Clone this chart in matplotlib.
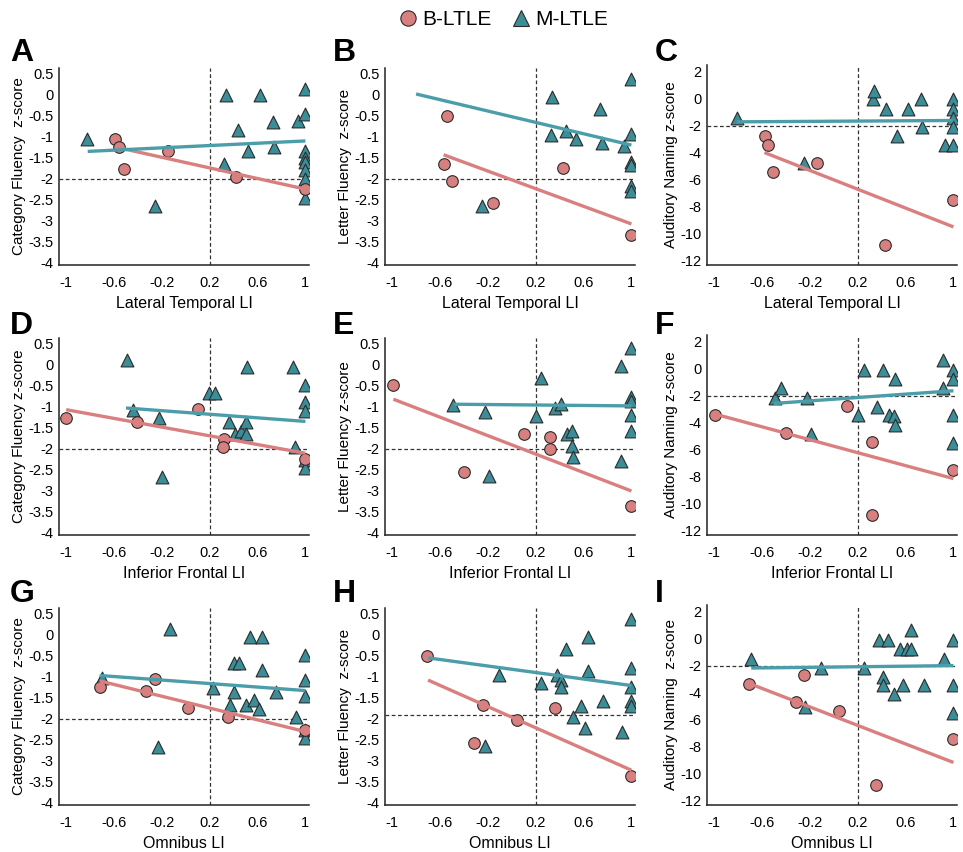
import numpy as np
import matplotlib.pyplot as plt
from matplotlib.lines import Line2D

plt.rcParams['font.family'] = ['Liberation Sans', 'DejaVu Sans']

# ---- data ----
x_ticks = [-1, -0.6, -0.2, 0.2, 0.6, 1]
x_tick_labels = ['-1', '-0.6', '-0.2', '0.2', '0.6', '1']
fluency_ticks = [0.5, 0, -0.5, -1, -1.5, -2, -2.5, -3, -3.5, -4]
fluency_labels = ['0.5', '0', '-0.5', '-1', '-1.5', '-2', '-2.5', '-3', '-3.5', '-4']
naming_ticks = [2, 0, -2, -4, -6, -8, -10, -12]
naming_labels = ['2', '0', '-2', '-4', '-6', '-8', '-10', '-12']
groups = ['B-LTLE', 'M-LTLE']

# A: lateral temporal LI vs category fluency
a_b_x = [-0.59, -0.56, -0.515, -0.15, 0.42, 1.0]
a_b_y = [-1.05, -1.25, -1.78, -1.35, -1.97, -2.25]
a_m_x = [-0.83, -0.26, 0.34, 0.32, 0.44, 0.52, 0.62, 0.73, 0.74, 0.94, 1, 1, 1, 1, 1, 1, 1, 1]
a_m_y = [-1.05, -2.65, 0.0, -1.65, -0.85, -1.35, 0.0, -0.65, -1.25, -0.63, 0.15, -0.45,
         -1.35, -1.5, -1.6, -1.8, -2.0, -2.45]
a_b_fit = [[-0.58, 1.0], [-1.25, -2.25]]
a_m_fit = [[-0.82, 1.0], [-1.35, -1.1]]

# B: lateral temporal LI vs letter fluency
b_b_x = [-0.54, -0.57, -0.5, -0.16, 0.43, 1.0]
b_b_y = [-0.5, -1.65, -2.05, -2.57, -1.75, -3.35]
b_m_x = [-0.25, 0.34, 0.33, 0.45, 0.54, 0.74, 0.75, 0.94, 1, 1, 1, 1, 1, 1]
b_m_y = [-2.65, -0.05, -0.97, -0.86, -1.05, -0.33, -1.15, -1.23, 0.38, -0.94,
         -1.6, -1.68, -2.17, -2.29]
b_b_fit = [[-0.57, 1.0], [-1.43, -3.08]]
b_m_fit = [[-0.8, 1.0], [0.02, -1.2]]

# C: lateral temporal LI vs auditory naming
c_b_x = [-0.575, -0.55, -0.51, -0.14, 0.43, 1.0]
c_b_y = [-2.76, -3.45, -5.48, -4.81, -10.88, -7.49]
c_m_x = [-0.81, -0.25, 0.33, 0.34, 0.44, 0.53, 0.62, 0.73, 0.74, 0.93, 1, 1, 1, 1, 1]
c_m_y = [-1.42, -4.76, 0.0, 0.55, -0.78, -2.78, -0.78, 0.0, -2.14, -3.45,
         0.0, -0.78, -1.47, -2.14, -3.45]
c_b_fit = [[-0.58, 1.0], [-4.0, -9.52]]
c_m_fit = [[-0.81, 1.0], [-1.72, -1.62]]

# D: inferior frontal LI vs category fluency
d_b_x = [-1.0, -0.41, 0.1, 0.32, 0.315, 1.0]
d_b_y = [-1.27, -1.36, -1.05, -1.76, -1.96, -2.24]
d_m_x = [-0.49, -0.44, -0.22, -0.2, 0.19, 0.245, 0.36, 0.41, 0.46, 0.5, 0.505, 0.51,
         0.9, 0.91, 1, 1, 1, 1, 1]
d_m_y = [0.12, -1.07, -1.28, -2.67, -0.67, -0.67, -1.36, -1.66, -1.57, -1.36, -1.66,
         -0.05, -0.05, -1.96, -0.49, -0.89, -1.09, -2.27, -2.47]
d_b_fit = [[-1.0, 1.0], [-1.07, -2.11]]
d_m_fit = [[-0.5, 1.0], [-1.03, -1.35]]

# E: inferior frontal LI vs letter fluency
e_b_x = [-0.99, -0.4, 0.1, 0.32, 0.32, 1.0]
e_b_y = [-0.48, -2.56, -1.65, -1.73, -2.01, -3.37]
e_m_x = [-0.49, -0.22, -0.19, 0.2, 0.24, 0.36, 0.41, 0.465, 0.5, 0.5, 0.51, 0.91, 0.91,
         1, 1, 1, 1, 1]
e_m_y = [-0.97, -1.12, -2.65, -1.22, -0.32, -1.02, -0.93, -1.66, -1.57, -1.94, -2.2,
         -0.02, -2.3, 0.4, -0.77, -0.86, -1.2, -1.57]
e_b_fit = [[-0.99, 1.0], [-0.82, -3.01]]
e_m_fit = [[-0.48, 1.0], [-0.94, -0.98]]

# F: inferior frontal LI vs auditory naming
f_b_x = [-0.99, -0.4, 0.11, 0.32, 0.32, 1.0]
f_b_y = [-3.45, -4.81, -2.76, -5.48, -10.88, -7.49]
f_m_x = [-0.49, -0.44, -0.22, -0.19, 0.2, 0.25, 0.36, 0.41, 0.46, 0.5, 0.51, 0.51,
         0.91, 0.91, 1, 1, 1, 1]
f_m_y = [-2.21, -1.47, -2.21, -4.86, -3.45, -0.1, -2.83, -0.1, -3.45, -3.52, -0.73,
         -4.2, 0.64, -1.47, -0.1, -0.77, -3.45, -5.5]
f_b_fit = [[-0.99, 1.0], [-3.38, -8.16]]
f_m_fit = [[-0.5, 1.0], [-2.58, -1.64]]

# G: omnibus LI vs category fluency
g_b_x = [-0.72, -0.33, -0.26, 0.02, 0.35, 1.0]
g_b_y = [-1.25, -1.33, -1.05, -1.75, -1.95, -2.27]
g_m_x = [-0.7, -0.23, -0.13, 0.23, 0.4, 0.445, 0.4, 0.37, 0.5, 0.54, 0.57, 0.61, 0.635,
         0.64, 0.75, 0.92, 1, 1, 1, 1, 1]
g_m_y = [-1.04, -2.68, 0.14, -1.27, -0.68, -0.68, -1.37, -1.67, -1.67, -0.04, -1.55,
         -1.77, -0.04, -0.85, -1.37, -1.97, -0.47, -1.07, -1.47, -2.27, -2.46]
g_b_fit = [[-0.72, 1.0], [-1.1, -2.31]]
g_m_fit = [[-0.72, 1.0], [-0.97, -1.33]]

# H: omnibus LI vs letter fluency
h_b_x = [-0.71, -0.32, -0.24, 0.04, 0.36, 1.0]
h_b_y = [-0.5, -2.57, -1.67, -2.03, -1.75, -3.36]
h_m_x = [-0.22, -0.11, 0.24, 0.375, 0.41, 0.415, 0.455, 0.51, 0.575, 0.61, 0.64, 0.64,
         0.76, 0.925, 1, 1, 1, 1, 1]
h_m_y = [-2.66, -0.97, -1.16, -0.97, -1.08, -1.25, -0.35, -1.95, -1.69, -2.22, -0.06,
         -0.87, -1.59, -2.33, 0.38, -0.79, -1.25, -1.59, -1.69]
h_b_fit = [[-0.7, 1.0], [-1.08, -3.23]]
h_m_fit = [[-0.7, 1.0], [-0.55, -1.21]]

# I: omnibus LI vs auditory naming
i_b_x = [-0.71, -0.32, -0.25, 0.04, 0.35, 1.0]
i_b_y = [-3.35, -4.71, -2.73, -5.39, -10.86, -7.45]
i_m_x = [-0.69, -0.24, -0.11, 0.25, 0.375, 0.45, 0.415, 0.415, 0.5, 0.55, 0.575, 0.61,
         0.645, 0.645, 0.755, 0.92, 1, 1, 1]
i_m_y = [-1.48, -5.09, -2.15, -2.15, -0.11, -0.11, -2.85, -3.47, -4.09, -0.74, -3.47,
         -0.74, 0.68, -0.74, -3.47, -1.48, -0.11, -3.47, -5.51]
i_b_fit = [[-0.7, 1.0], [-3.35, -9.19]]
i_m_fit = [[-0.69, 1.0], [-2.18, -2.0]]

letters = ['A', 'B', 'C', 'D', 'E', 'F', 'G', 'H', 'I']
x_titles = ['Lateral Temporal LI'] * 3 + ['Inferior Frontal LI'] * 3 + ['Omnibus LI'] * 3
y_titles = ['Category Fluency  z-score', 'Letter Fluency  z-score', 'Auditory Naming z-score',
            'Category Fluency z-score', 'Letter Fluency z-score', 'Auditory Naming z-score',
            'Category Fluency  z-score', 'Letter Fluency  z-score', 'Auditory Naming  z-score']
cutoff_y = [-2, -2, -2, -2, -2, -2, -2, -1.92, -2]
cutoff_x = 0.2

b_series = [(a_b_x, a_b_y), (b_b_x, b_b_y), (c_b_x, c_b_y), (d_b_x, d_b_y), (e_b_x, e_b_y),
            (f_b_x, f_b_y), (g_b_x, g_b_y), (h_b_x, h_b_y), (i_b_x, i_b_y)]
m_series = [(a_m_x, a_m_y), (b_m_x, b_m_y), (c_m_x, c_m_y), (d_m_x, d_m_y), (e_m_x, e_m_y),
            (f_m_x, f_m_y), (g_m_x, g_m_y), (h_m_x, h_m_y), (i_m_x, i_m_y)]
b_fits = [a_b_fit, b_b_fit, c_b_fit, d_b_fit, e_b_fit, f_b_fit, g_b_fit, h_b_fit, i_b_fit]
m_fits = [a_m_fit, b_m_fit, c_m_fit, d_m_fit, e_m_fit, f_m_fit, g_m_fit, h_m_fit, i_m_fit]

# ---- styling ----
PINK = '#d88080'
TEAL = '#3b8d98'
PINK_LINE = '#da7f7f'
TEAL_LINE = '#4b9ea9'
EDGE = '#2b2b2b'

W, H = 963, 852
fig = plt.figure(figsize=(W / 100, H / 100), dpi=100)

col_left = [59, 385, 707]
row_top = [68, 338, 608]
ax_w, ax_h = 250, 197

for i, letter in enumerate(letters):
    r, c = divmod(i, 3)
    naming = (c == 2)
    top = row_top[r] - (3 if naming else 0)
    h = ax_h + (3 if naming else 0)
    ax = fig.add_axes([col_left[c] / W, 1 - (top + h) / H, ax_w / W, h / H])

    ax.axvline(cutoff_x, color='#333333', lw=0.9, ls=(0, (3, 2)), zorder=1)
    ax.axhline(cutoff_y[i], color='#333333', lw=0.9, ls=(0, (3, 2)), zorder=1)

    bx, by = b_series[i]
    mx, my = m_series[i]
    ax.scatter(mx, my, marker='^', s=85, color=TEAL, edgecolor=EDGE, linewidth=0.8, zorder=3)
    ax.scatter(bx, by, marker='o', s=70, color=PINK, edgecolor=EDGE, linewidth=0.8, zorder=3)
    ax.plot(b_fits[i][0], b_fits[i][1], color=PINK_LINE, lw=2.4, zorder=4,
            solid_capstyle='butt')
    ax.plot(m_fits[i][0], m_fits[i][1], color=TEAL_LINE, lw=2.4, zorder=4,
            solid_capstyle='butt')

    ax.set_xlim(-1.06, 1.03)
    ax.set_xticks(x_ticks)
    ax.set_xticklabels(x_tick_labels)
    if naming:
        ax.set_ylim(-12.35, 2.5)
        ax.set_yticks(naming_ticks)
        ax.set_yticklabels(naming_labels)
    else:
        ax.set_ylim(-4.06, 0.64)
        ax.set_yticks(fluency_ticks)
        ax.set_yticklabels(fluency_labels)

    for side in ['top', 'right']:
        ax.spines[side].set_visible(False)
    for side in ['left', 'bottom']:
        ax.spines[side].set_color('#222222')
        ax.spines[side].set_linewidth(1.1)
    ax.tick_params(length=0, labelsize=10.5, colors='black')
    ax.tick_params(axis='x', pad=8)
    ax.tick_params(axis='y', pad=4)
    ax.set_xlabel(x_titles[i], fontsize=11.5, labelpad=4)
    ax.set_ylabel(y_titles[i], fontsize=11, labelpad=1.5)

letter_x = [10, 333, 655]
letter_base = [61, 334, 602]
for i, letter in enumerate(letters):
    r, c = divmod(i, 3)
    fig.text(letter_x[c] / W, 1 - letter_base[r] / H, letter, fontsize=23,
             fontweight='bold', ha='left', va='baseline')

handles = [Line2D([], [], ls='none', marker='o', markersize=11, color=PINK,
                  markeredgecolor=EDGE, markeredgewidth=0.8),
           Line2D([], [], ls='none', marker='^', markersize=12, color=TEAL,
                  markeredgecolor=EDGE, markeredgewidth=0.8)]
fig.legend(handles, groups, loc='upper center', bbox_to_anchor=(503 / W, 1.0), ncol=2,
           frameon=False, fontsize=15, handletextpad=0.2, columnspacing=0.9,
           handlelength=1.0, borderaxespad=0.1)

fig.savefig('out.png', dpi=100)
